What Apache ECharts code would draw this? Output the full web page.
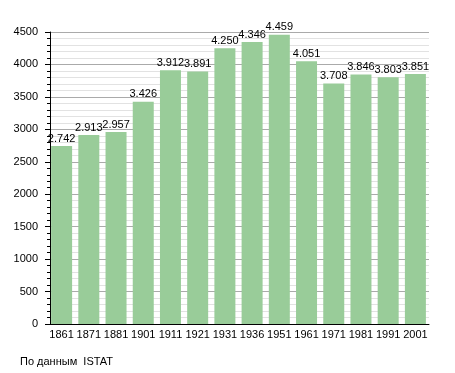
<!DOCTYPE html>
<html><head><meta charset="utf-8">
<script src="https://cdn.jsdelivr.net/npm/echarts@6/dist/echarts.min.js"></script>
<style>html,body{margin:0;padding:0;background:#fff}#c{width:455px;height:373px}</style>
</head><body><div id="c"></div>
<script>
var years = ['1861','1871','1881','1901','1911','1921','1931','1936','1951','1961','1971','1981','1991','2001'];
var population = [2742,2913,2957,3426,3912,3891,4250,4346,4459,4051,3708,3846,3803,3851];
var yTicks = [0,500,1000,1500,2000,2500,3000,3500,4000,4500];
var sourceText = 'По данным  ISTAT';

var chart = echarts.init(document.getElementById('c'), null, {renderer:'canvas'});
function fmt(v){ var s=String(v); return s.length>3 ? s.slice(0,s.length-3)+'.'+s.slice(-3) : s; }
chart.setOption({
  animation:false,
  textStyle:{fontFamily:'Liberation Sans, Arial, sans-serif'},
  grid:{left:48,top:32,right:26,bottom:49,containLabel:false},
  graphic:[{type:'text',left:20,top:356,style:{text:sourceText,fontSize:11,fill:'#000',fontFamily:'Liberation Sans, Arial, sans-serif'}}],
  xAxis:{type:'category',data:years,
    axisLine:{lineStyle:{color:'#000',width:1}},
    axisTick:{show:false},
    axisLabel:{color:'#000',fontSize:11,margin:5,interval:0},
    splitLine:{show:false}},
  yAxis:{type:'value',min:yTicks[0],max:yTicks[yTicks.length-1],interval:500,offset:-2,
    axisLine:{show:true,lineStyle:{color:'#000'}},
    axisTick:{show:true,length:5,lineStyle:{color:'#000'}},
    minorTick:{show:true,splitNumber:5,length:3,lineStyle:{color:'#000'}},
    axisLabel:{color:'#000',fontSize:11,margin:12,formatter:function(v){return String(v);}},
    splitLine:{show:true,lineStyle:{color:'#aaa',width:1}},
    minorSplitLine:{show:true,lineStyle:{color:'#e2e2e2',width:1}}},
  series:[{type:'bar',data:population,barWidth:21,
    itemStyle:{color:'#99cc99'},
    label:{show:true,position:'top',distance:2,color:'#000',fontSize:11,formatter:function(p){return fmt(p.value);}}}]
});
</script></body></html>
